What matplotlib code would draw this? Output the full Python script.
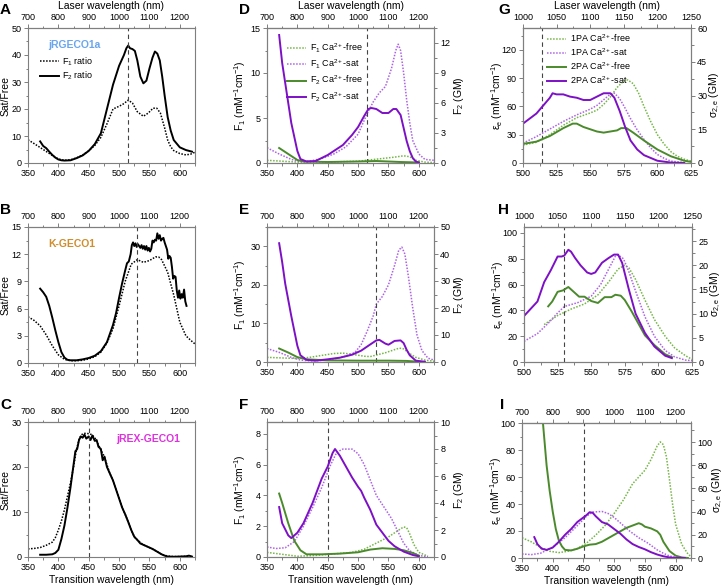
import matplotlib
matplotlib.use('Agg')
import matplotlib.pyplot as plt
from matplotlib.ticker import AutoMinorLocator
from matplotlib.lines import Line2D

plt.rcParams['font.family'] = ['Liberation Sans', 'DejaVu Sans']
plt.rcParams['mathtext.fontset'] = 'custom'
plt.rcParams['mathtext.rm'] = 'Liberation Sans'
plt.rcParams['mathtext.it'] = 'Liberation Sans:italic'
plt.rcParams['mathtext.default'] = 'regular'

GREEN = '#4b8a2c'
LGREEN = '#74b645'
PURPLE = '#7d10c6'
LPURPLE = '#ad62e6'
GRAY = '#7f7f7f'

# ---------- A: jRGECO1a ----------
a_x1 = [350, 360, 375, 390, 400, 410, 420, 430, 440, 450, 460, 470, 480, 490, 500, 508, 515, 522, 530,
        540, 548, 556, 562, 568, 575, 580, 585, 590, 600, 610, 618, 625]
a_f1 = [8.6, 7.2, 5.0, 2.8, 1.5, 1.0, 1.2, 1.9, 3.0, 4.5, 6.5, 9.5, 14.5, 20.0, 21.0, 22.0, 23.3, 22.2, 19.0,
        17.3, 18.5, 20.3, 20.3, 18.5, 13.0, 8.5, 6.0, 4.6, 3.5, 3.0, 3.3, 4.0]
a_x2 = [370, 375, 380, 385, 390, 395, 400, 405, 410, 420, 430, 440, 450, 460, 470, 480, 490, 500, 508, 512,
        515, 518, 522, 526, 530, 535, 540, 545, 550, 555, 559, 563, 567, 571, 575, 580, 585, 590, 600, 610, 620]
a_f2 = [8.0, 6.3, 5.5, 4.2, 3.0, 2.0, 1.3, 1.0, 0.9, 1.0, 1.8, 2.8, 4.5, 7.0, 11.0, 20.0, 29.0, 36.0, 40.0, 42.5,
        43.5, 42.5, 42.2, 41.5, 38.0, 32.0, 29.5, 30.5, 35.0, 39.0, 41.3, 40.5, 38.0, 32.0, 25.0, 17.0, 12.0, 8.5,
        5.8, 4.8, 4.2]

# ---------- B: K-GECO1 ----------
b_x1 = [350, 360, 370, 380, 390, 400, 410, 420, 430, 440, 450, 460, 470, 480, 490, 500, 510, 520, 530, 540,
        550, 560, 565, 570, 580, 590, 600, 610, 618, 625]
b_f1 = [5.1, 4.7, 4.1, 3.1, 1.9, 0.9, 0.4, 0.25, 0.25, 0.3, 0.45, 0.7, 1.2, 2.2, 3.8, 6.3, 9.0, 10.9, 11.4, 11.1,
        11.3, 11.7, 11.7, 11.4, 10.0, 7.5, 4.5, 3.0, 2.5, 2.1]
b_x2 = [370, 375, 380, 385, 390, 395, 400, 405, 410, 415, 420, 430, 440, 450, 460, 470, 480, 490, 495, 500, 505,
        510, 513, 516, 519, 521, 523, 525, 527, 529, 531, 533, 535, 537, 539, 541, 543, 545, 547, 549, 551, 553,
        555, 557, 559, 561, 563, 565, 567, 569, 571, 573, 575, 577, 579, 581, 583, 585, 587, 589, 591, 593, 595,
        597, 599, 601, 603, 605, 607, 609, 611]
b_f2 = [8.2, 7.8, 7.3, 6.3, 5.0, 3.6, 2.3, 1.2, 0.6, 0.35, 0.3, 0.3, 0.4, 0.55, 0.8, 1.3, 2.3, 4.2, 5.5, 7.2, 8.8,
        10.2, 11.0, 11.2, 12.0, 13.0, 13.3, 12.9, 13.2, 12.8, 13.1, 12.9, 12.7, 13.0, 12.6, 12.9, 12.5, 12.9,
        12.4, 12.7, 12.3, 12.6, 13.5, 13.3, 13.6, 13.5, 14.3, 13.7, 14.1, 13.5, 13.7, 13.8, 13.3, 12.9, 12.5,
        11.5, 11.8, 11.6, 10.6, 9.3, 9.6, 9.5, 8.0, 7.2, 8.0, 7.1, 7.6, 7.2, 8.1, 6.8, 6.3]

# ---------- C: jREX-GECO1 ----------
c_x1 = [350, 360, 370, 380, 390, 395, 400, 405, 410, 415, 420, 425, 430, 435, 440, 445, 450, 455, 460, 465, 470,
        475, 480, 485, 490, 495, 500, 505, 510, 515, 520, 525, 530, 540, 550, 560, 570, 580, 590, 600, 610, 620]
c_f1 = [1.8, 1.9, 2.1, 2.6, 3.3, 4.3, 6.0, 8.0, 10.5, 13.5, 16.5, 20.0, 24.0, 26.5, 27.4, 27.5, 27.4, 27.2, 26.5,
        25.2, 23.8, 22.5, 20.5, 18.5, 17.0, 15.0, 13.0, 11.0, 9.5, 7.8, 6.0, 4.5, 3.8, 2.7, 2.1, 1.4, 0.6, 0.2,
        0.1, 0.1, 0.15, 0.1]
c_x2 = [370, 380, 390, 395, 400, 405, 410, 415, 420, 425, 428, 431, 434, 437, 440, 443, 446, 450, 453, 456, 460,
        463, 466, 470, 473, 476, 480, 485, 490, 495, 500, 505, 510, 515, 520, 525, 530, 535, 540, 545, 550, 555,
        560, 565, 570, 575, 580, 590, 600, 610, 615, 620]
c_f2 = [0.5, 0.5, 0.6, 0.9, 1.6, 4.0, 7.0, 11.0, 15.5, 20.5, 23.5, 24.0, 26.0, 26.8, 26.5, 27.2, 26.3, 26.8, 26.0,
        27.0, 25.8, 26.0, 24.5, 24.0, 21.5, 22.3, 20.0, 18.5, 17.0, 15.0, 13.0, 11.0, 9.5, 7.8, 6.0, 4.5, 3.8,
        3.0, 2.7, 2.4, 2.1, 1.8, 1.4, 1.0, 0.6, 0.3, 0.1, 0.05, 0.1, 0.15, 0.3, 0.1]

# ---------- D: jRGECO1a brightness ----------
d_x_f1free = [350, 375, 400, 450, 500, 520, 540, 560, 575, 585, 595, 610, 625]
d_f1free = [0.3, 0.2, 0.1, 0.1, 0.2, 0.35, 0.5, 0.65, 0.8, 0.7, 0.3, 0.1, 0.05]
d_x_f1sat = [350, 370, 390, 405, 420, 440, 460, 480, 500, 515, 525, 535, 545, 555, 562, 566, 570, 575, 580,
             585, 590, 600, 610, 625]
d_f1sat = [1.7, 1.0, 0.4, 0.15, 0.2, 0.5, 1.0, 1.8, 3.2, 5.5, 6.8, 7.8, 8.5, 10.5, 12.5, 13.2, 12.5, 10.0, 7.0,
           4.5, 2.5, 1.0, 0.4, 0.3]
d_x_f2free = [370, 385, 400, 410, 450, 500, 530, 570, 600]
d_f2free = [1.5, 0.9, 0.3, 0.15, 0.1, 0.15, 0.2, 0.1, 0.05]
d_x_f2sat = [370, 375, 380, 390, 400, 405, 415, 430, 450, 460, 475, 490, 500, 510, 517, 522, 530, 540, 550,
             558, 563, 570, 575, 580, 585, 590, 595, 600]
d_f2sat = [12.8, 10.0, 8.0, 4.0, 1.2, 0.4, 0.15, 0.2, 0.8, 1.2, 1.8, 2.8, 3.6, 4.7, 5.4, 5.5, 5.4, 5.0, 5.0,
           5.4, 5.4, 4.8, 3.5, 2.2, 1.2, 0.5, 0.15, 0.05]

# ---------- E: K-GECO1 brightness ----------
e_x_f1free = [350, 400, 420, 440, 460, 475, 490, 510, 520, 530, 545, 560, 568, 575, 585, 595, 610, 625]
e_f1free = [1.2, 0.9, 1.2, 1.7, 2.2, 2.3, 2.0, 1.5, 1.4, 1.8, 2.4, 3.2, 3.6, 3.4, 2.2, 1.2, 0.5, 0.2]
e_x_f1sat = [350, 370, 390, 405, 420, 440, 460, 480, 495, 505, 515, 525, 530, 540, 550, 560, 567, 572, 577,
             583, 590, 597, 605, 615, 625]
e_f1sat = [3.5, 2.5, 1.2, 0.5, 0.3, 0.4, 0.8, 1.5, 2.5, 4.5, 8.0, 12.0, 15.0, 17.0, 20.0, 25.0, 29.0, 29.8,
           28.0, 22.0, 14.0, 7.0, 3.0, 1.0, 0.5]
e_x_f2free = [370, 385, 400, 415, 450, 500, 550, 580, 600]
e_f2free = [5.0, 3.5, 1.8, 1.0, 0.6, 0.5, 0.5, 0.4, 0.1]
e_x_f2sat = [370, 375, 380, 390, 400, 405, 415, 430, 450, 470, 490, 505, 520, 530, 535, 545, 550, 560, 570,
             575, 580, 585, 595, 610]
e_f2sat = [44.0, 37.0, 29.0, 17.0, 6.0, 2.5, 0.8, 0.5, 1.0, 1.6, 2.7, 4.2, 6.5, 8.0, 8.2, 6.8, 6.4, 7.8, 8.0,
           7.0, 4.5, 2.5, 0.5, 0.1]

# ---------- F: jREX-GECO1 brightness ----------
f_x_f1free = [350, 400, 430, 460, 490, 510, 530, 550, 565, 575, 580, 585, 592, 600, 615]
f_f1free = [0.3, 0.05, 0.1, 0.2, 0.3, 0.5, 0.9, 1.3, 1.7, 1.95, 1.9, 1.5, 0.8, 0.3, 0.05]
f_x_f1sat = [350, 365, 380, 395, 410, 425, 440, 455, 465, 475, 490, 500, 510, 520, 530, 545, 555, 565, 575,
             585, 600, 615]
f_f1sat = [0.65, 0.55, 0.6, 1.0, 2.0, 3.2, 4.5, 6.0, 6.8, 7.0, 7.0, 6.7, 6.0, 5.0, 4.0, 3.1, 2.5, 1.7, 0.9, 0.4,
           0.1, 0.02]
f_x_f2free = [370, 375, 385, 395, 405, 415, 440, 470, 500, 520, 540, 560, 575, 590, 600]
f_f2free = [4.7, 4.0, 2.5, 1.2, 0.5, 0.2, 0.2, 0.25, 0.35, 0.55, 0.65, 0.6, 0.5, 0.3, 0.1]
f_x_f2sat = [370, 375, 385, 390, 400, 410, 425, 440, 450, 458, 462, 470, 480, 490, 500, 505, 510, 520, 530,
             540, 550, 560, 575, 590, 600]
f_f2sat = [3.7, 2.5, 1.6, 1.4, 1.8, 2.5, 4.0, 5.8, 6.7, 7.7, 8.0, 7.5, 6.7, 5.9, 5.2, 4.9, 4.4, 3.5, 2.4, 1.8,
           1.2, 0.8, 0.4, 0.15, 0.05]

# ---------- G: jRGECO1a 1PA / 2PA ----------
g_x_1free = [500, 510, 520, 530, 540, 550, 555, 560, 565, 570, 575, 578, 582, 586, 590, 595, 600, 605, 610,
             615, 620, 625]
g_1free = [19, 22, 30, 40, 48, 53, 56, 62, 70, 80, 87, 88, 84, 74, 60, 44, 30, 20, 12, 7, 4, 2]
g_x_1sat = [500, 510, 520, 530, 540, 550, 555, 560, 565, 568, 572, 576, 580, 585, 590, 595, 600, 605, 610, 620]
g_1sat = [21, 28, 36, 44, 51, 57, 61, 67, 73, 74, 68, 58, 47, 35, 25, 16, 9, 5, 2, 0.5]
g_x_2free = [500, 510, 520, 530, 537, 540, 545, 550, 555, 560, 565, 570, 573, 577, 582, 590, 600, 610, 620, 625]
g_2free = [8.5, 9.5, 12.0, 15.5, 17.5, 17.5, 16.0, 15.0, 14.0, 13.5, 14.0, 14.5, 15.5, 15.5, 13.5, 10.0, 6.0,
           3.0, 1.0, 0.5]
g_x_2sat = [500, 510, 515, 520, 522, 525, 530, 535, 540, 545, 550, 555, 560, 565, 568, 572, 576, 580, 585, 590,
            600, 610, 620]
g_2sat = [17.5, 22.0, 25.5, 29.0, 31.0, 30.5, 30.5, 29.5, 29.0, 28.0, 28.0, 29.5, 31.0, 31.0, 29.0, 23.0,
          16.0, 10.0, 6.0, 3.5, 1.0, 0.2, 0.0]

# ---------- H: K-GECO1 1PA / 2PA ----------
h_x_1free = [515, 525, 535, 545, 555, 563, 570, 575, 578, 583, 590, 597, 605, 612, 620, 625]
h_1free = [29, 36, 41, 45, 52, 62, 72, 75, 73, 64, 48, 33, 20, 11, 5, 2]
h_x_1sat = [500, 510, 518, 525, 530, 540, 550, 557, 563, 568, 570, 574, 578, 583, 590, 597, 605, 612, 620, 625]
h_1sat = [16, 22, 30, 38, 43, 46, 51, 60, 72, 82, 83, 80, 70, 55, 35, 20, 9, 4, 1.5, 1]
h_x_2free = [518, 521, 525, 529, 533, 537, 541, 545, 550, 555, 560, 565, 568, 572, 575, 580, 585, 590, 597,
             605, 610]
h_2free = [11.5, 12.5, 14.5, 14.8, 15.5, 14.5, 13.5, 13.5, 12.6, 12.2, 13.4, 13.4, 13.9, 13.7, 12.8, 10.5, 8.0,
           5.5, 3.5, 1.6, 1.0]
h_x_2sat = [500, 505, 510, 515, 520, 525, 528, 530, 533, 535, 538, 542, 547, 550, 553, 558, 563, 567, 570, 573,
            578, 583, 590, 597, 605, 610]
h_2sat = [9.5, 11.0, 12.5, 16.5, 19.0, 21.8, 21.8, 22.0, 23.2, 22.8, 21.5, 20.0, 18.5, 18.2, 18.5, 20.5, 21.5,
          22.2, 22.2, 20.5, 15.0, 10.0, 6.0, 3.2, 1.3, 0.8]

# ---------- I: jREX-GECO1 1PA / 2PA ----------
i_x_1free = [350, 365, 380, 395, 410, 425, 440, 455, 470, 485, 500, 515, 530, 540, 550, 560, 570, 575, 580,
             585, 590, 595, 600, 610, 620, 625]
i_1free = [15, 12, 8, 5, 4, 5, 7, 11, 17, 24, 33, 43, 55, 60, 65, 73, 83, 86, 84, 75, 58, 40, 25, 10, 3, 1]
i_x_1sat = [350, 365, 380, 400, 420, 440, 455, 465, 480, 490, 500, 510, 525, 540, 555, 570, 580, 590, 600, 615]
i_1sat = [3, 2.5, 3.5, 8, 15, 24, 31, 34, 34.5, 33, 30, 26, 20, 15, 11, 6, 3.5, 1.5, 0.5, 0.1]
i_x_2free = [370, 380, 384, 390, 395, 400, 405, 410, 415, 420, 430, 440, 450, 460, 470, 480, 490, 500, 510, 520,
             530, 540, 545, 550, 560, 570, 575, 580, 590, 600, 610, 620]
i_2free = [215, 145, 117, 80, 58, 40, 25, 15, 10, 7, 6.5, 8, 10, 11.5, 12, 14, 17, 20, 23, 26, 28, 30, 29, 27,
           25.5, 23, 20, 14, 6, 2, 0.5, 0]
i_x_2sat = [370, 375, 382, 390, 400, 410, 420, 430, 440, 450, 455, 460, 465, 470, 480, 490, 500, 510, 520, 530,
            540, 550, 560, 570, 580, 590, 600, 615]
i_2sat = [18, 12, 8, 7, 9, 14, 20, 25, 31, 35, 37, 39.5, 39, 36, 31, 29, 25, 21, 16, 12, 9.5, 7.5, 5, 3, 1.5,
          0.5, 0.1, 0]

W, H = 726, 588
fig = plt.figure(figsize=(W / 100, H / 100), dpi=100)


def style(ax):
    for s in ax.spines.values():
        s.set_color(GRAY)
        s.set_linewidth(0.8)
    ax.tick_params(which='both', direction='out', color=GRAY, labelsize=6.5, pad=1.5, width=0.7)
    ax.tick_params(which='major', length=3)
    ax.tick_params(which='minor', length=1.8)


def panel(box, xlim, xticks, top_ticks, ylim, yticks):
    l, t, r, b = box
    ax = fig.add_axes([l / W, 1 - b / H, (r - l) / W, (b - t) / H])
    ax.set_xlim(xlim)
    ax.set_xticks(xticks)
    ax.set_ylim(ylim)
    ax.set_yticks(yticks)
    ax.xaxis.set_minor_locator(AutoMinorLocator(2))
    ax.yaxis.set_minor_locator(AutoMinorLocator(2))
    style(ax)
    top = ax.secondary_xaxis('top', functions=(lambda x: 2 * x, lambda x: x / 2))
    top.set_xticks(top_ticks)
    top.xaxis.set_minor_locator(AutoMinorLocator(2))
    style(top)
    return ax, top


def right_axis(ax, ylim, yticks):
    ax2 = ax.twinx()
    ax2.set_ylim(ylim)
    ax2.set_yticks(yticks)
    ax2.yaxis.set_minor_locator(AutoMinorLocator(2))
    style(ax2)
    return ax2


def ylabels(ax, left, lx, ax2=None, right=None, rx=None):
    ax.set_ylabel(left, fontsize=fs_lab)
    ax.yaxis.set_label_coords(lx, 0.5)
    if ax2 is not None:
        ax2.set_ylabel(right, fontsize=fs_lab, rotation=90)
        ax2.yaxis.set_label_coords(rx, 0.5)


dot = (0, (1, 1))
dash = (0, (4, 3))
xl_uv = (350, 625)
xt_uv = [350, 400, 450, 500, 550, 600]
tt_uv = [700, 800, 900, 1000, 1100, 1200]
xl_g = (500, 625)
xt_g = [500, 525, 550, 575, 600, 625]
tt_g = [1000, 1050, 1100, 1150, 1200, 1250]
lab_top = 'Laser wavelength (nm)'
lab_bot = 'Transition wavelength (nm)'
lab_f1 = 'F$_1$ (mM$^{-1}$cm$^{-1}$)'
lab_f2 = 'F$_2$ (GM)'
lab_eps = 'ε$_e$ (mM$^{-1}$cm$^{-1}$)'
lab_sig = 'σ$_{2,e}$ (GM)'
fs_lab = 7.5

# ---- column 1 ----
ax, top = panel((28, 28, 195, 163), xl_uv, xt_uv, tt_uv, (0, 50), [0, 10, 20, 30, 40, 50])
ax.plot(a_x1, a_f1, color='black', ls=dot, lw=1.1, label='F$_1$ ratio')
ax.plot(a_x2, a_f2, color='black', lw=1.4, label='F$_2$ ratio')
ax.axvline(515, color='#444444', ls=dash, lw=0.8)
ylabels(ax, 'Sat/Free', -0.105)
top.set_xlabel(lab_top, fontsize=fs_lab, labelpad=3)
ax.text(0.28, 0.875, 'jRGECO1a', transform=ax.transAxes, ha='center', va='center',
        color='#6aa6ee', fontsize=7.5, fontweight='bold')
ax.legend(loc='upper left', bbox_to_anchor=(0.07, 0.80), frameon=False, fontsize=6.5, borderpad=0,
          borderaxespad=0, handlelength=2.1, handletextpad=0.4, labelspacing=0.25)

ax, top = panel((28, 227, 195, 363), xl_uv, xt_uv, tt_uv, (0, 15), [0, 3, 6, 9, 12, 15])
ax.plot(b_x1, b_f1, color='black', ls=dot, lw=1.1)
ax.plot(b_x2, b_f2, color='black', lw=1.4)
ax.axvline(530, color='#444444', ls=dash, lw=0.8)
ylabels(ax, 'Sat/Free', -0.105)
ax.text(0.26, 0.875, 'K-GECO1', transform=ax.transAxes, ha='center', va='center',
        color='#d08d2c', fontsize=7.5, fontweight='bold')

ax, top = panel((28, 422, 195, 557), xl_uv, xt_uv, tt_uv, (0, 30), [0, 10, 20, 30])
ax.plot(c_x1, c_f1, color='black', ls=dot, lw=1.1)
ax.plot(c_x2, c_f2, color='black', lw=1.4)
ax.axvline(450, color='#444444', ls=dash, lw=0.8)
ylabels(ax, 'Sat/Free', -0.105)
ax.set_xlabel(lab_bot, fontsize=fs_lab, labelpad=2)
ax.text(0.72, 0.874, 'jREX-GECO1', transform=ax.transAxes, ha='center', va='center',
        color='#dd33dd', fontsize=7.5, fontweight='bold')

# ---- column 2 ----
ax, top = panel((267, 28, 434, 163), xl_uv, xt_uv, tt_uv, (0, 15), [0, 5, 10, 15])
ax2 = right_axis(ax, (0, 13.5), [0, 3, 6, 9, 12])
ax.plot(d_x_f1free, d_f1free, color=LGREEN, ls=dot, lw=1.1)
ax.plot(d_x_f1sat, d_f1sat, color=LPURPLE, ls=dot, lw=1.1)
ax2.plot(d_x_f2free, d_f2free, color=GREEN, lw=1.4)
ax2.plot(d_x_f2sat, d_f2sat, color=PURPLE, lw=1.4)
ax.axvline(515, color='#444444', ls=dash, lw=0.8)
ylabels(ax, lab_f1, -0.115, ax2, lab_f2, 1.105)
top.set_xlabel(lab_top, fontsize=fs_lab, labelpad=3)
handles = [Line2D([], [], color=LGREEN, ls=dot, lw=1.1), Line2D([], [], color=LPURPLE, ls=dot, lw=1.1),
           Line2D([], [], color=GREEN, lw=1.4), Line2D([], [], color=PURPLE, lw=1.4)]
ax.legend(handles, ['F$_1$ Ca$^{2+}$-free', 'F$_1$ Ca$^{2+}$-sat', 'F$_2$ Ca$^{2+}$-free',
                    'F$_2$ Ca$^{2+}$-sat'],
          loc='upper left', bbox_to_anchor=(0.12, 0.90), frameon=False, fontsize=6.5, borderpad=0,
          borderaxespad=0, handlelength=2.1, handletextpad=0.4, labelspacing=0.35)

ax, top = panel((267, 227, 434, 362), xl_uv, xt_uv, tt_uv, (0, 35), [0, 10, 20, 30])
ax2 = right_axis(ax, (0, 50), [0, 10, 20, 30, 40, 50])
ax.plot(e_x_f1free, e_f1free, color=LGREEN, ls=dot, lw=1.1)
ax.plot(e_x_f1sat, e_f1sat, color=LPURPLE, ls=dot, lw=1.1)
ax2.plot(e_x_f2free, e_f2free, color=GREEN, lw=1.4)
ax2.plot(e_x_f2sat, e_f2sat, color=PURPLE, lw=1.4)
ax.axvline(530, color='#444444', ls=dash, lw=0.8)
ylabels(ax, lab_f1, -0.115, ax2, lab_f2, 1.105)

ax, top = panel((267, 422, 434, 557), xl_uv, xt_uv, tt_uv, (0, 8.757), [0, 2, 4, 6, 8])
ax2 = right_axis(ax, (0, 10), [0, 2, 4, 6, 8, 10])
ax.plot(f_x_f1free, f_f1free, color=LGREEN, ls=dot, lw=1.1)
ax.plot(f_x_f1sat, f_f1sat, color=LPURPLE, ls=dot, lw=1.1)
ax2.plot(f_x_f2free, f_f2free, color=GREEN, lw=1.4)
ax2.plot(f_x_f2sat, f_f2sat, color=PURPLE, lw=1.4)
ax.axvline(450, color='#444444', ls=dash, lw=0.8)
ylabels(ax, lab_f1, -0.115, ax2, lab_f2, 1.105)
ax.set_xlabel(lab_bot, fontsize=fs_lab, labelpad=2)

# ---- column 3 ----
ax, top = panel((523, 28, 691, 163), xl_g, xt_g, tt_g, (0, 143), [0, 30, 60, 90, 120])
ax2 = right_axis(ax, (0, 60), [0, 15, 30, 45, 60])
ax.plot(g_x_1free, g_1free, color=LGREEN, ls=dot, lw=1.1)
ax.plot(g_x_1sat, g_1sat, color=LPURPLE, ls=dot, lw=1.1)
ax2.plot(g_x_2free, g_2free, color=GREEN, lw=1.4)
ax2.plot(g_x_2sat, g_2sat, color=PURPLE, lw=1.4)
ax.axvline(514, color='#444444', ls=dash, lw=0.8)
ylabels(ax, lab_eps, -0.105, ax2, lab_sig, 1.10)
top.set_xlabel(lab_top, fontsize=fs_lab, labelpad=3)
ax.legend(handles, ['1PA Ca$^{2+}$-free', '1PA Ca$^{2+}$-sat', '2PA Ca$^{2+}$-free', '2PA Ca$^{2+}$-sat'],
          loc='upper left', bbox_to_anchor=(0.143, 0.965), frameon=False, fontsize=6.5, borderpad=0,
          borderaxespad=0, handlelength=2.1, handletextpad=0.4, labelspacing=0.25)

ax, top = panel((524, 227, 692, 362), xl_g, xt_g, tt_g, (0, 104.6), [0, 20, 40, 60, 80, 100])
ax2 = right_axis(ax, (0, 27.9), [0, 5, 10, 15, 20, 25])
ax.plot(h_x_1free, h_1free, color=LGREEN, ls=dot, lw=1.1)
ax.plot(h_x_1sat, h_1sat, color=LPURPLE, ls=dot, lw=1.1)
ax2.plot(h_x_2free, h_2free, color=GREEN, lw=1.4)
ax2.plot(h_x_2sat, h_2sat, color=PURPLE, lw=1.4)
ax.axvline(530, color='#444444', ls=dash, lw=0.8)
ylabels(ax, lab_eps, -0.105, ax2, lab_sig, 1.10)

ax, top = panel((522, 423, 691, 558), xl_uv, xt_uv, tt_uv, (0, 100), [0, 20, 40, 60, 80, 100])
ax2 = right_axis(ax, (0, 116.4), [0, 20, 40, 60, 80, 100])
ax.plot(i_x_1free, i_1free, color=LGREEN, ls=dot, lw=1.1)
ax.plot(i_x_1sat, i_1sat, color=LPURPLE, ls=dot, lw=1.1)
ax2.plot(i_x_2free, i_2free, color=GREEN, lw=1.4)
ax2.plot(i_x_2sat, i_2sat, color=PURPLE, lw=1.4)
ax.axvline(451, color='#444444', ls=dash, lw=0.8)
ylabels(ax, lab_eps, -0.105, ax2, lab_sig, 1.115)
ax.set_xlabel(lab_bot, fontsize=fs_lab, labelpad=2)

# panel letters
for letter, (px, py) in {'A': (0, 3), 'D': (239, 3), 'G': (498, 3), 'B': (0, 203), 'E': (239, 203),
                         'H': (498, 203), 'C': (0, 398), 'F': (239, 398), 'I': (500, 398)}.items():
    fig.text(px / W, 1 - py / H, letter, fontsize=11, fontweight='bold', ha='left', va='top')

fig.savefig('out.png', dpi=100)
